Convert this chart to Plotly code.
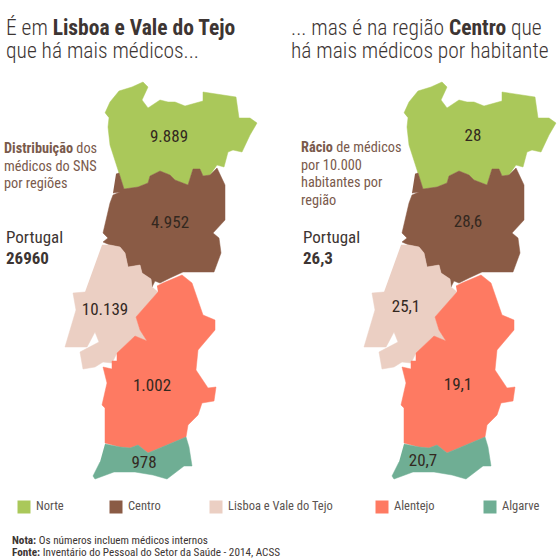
import plotly.graph_objects as go

# region names and values
regions = ['Norte', 'Centro', 'Lisboa e Vale do Tejo', 'Alentejo', 'Algarve']
colors = ['#aac85a', '#8a5b45', '#ebcfc3', '#fe7a62', '#6fae94']
medicos = ['9.889', '4.952', '10.139', '1.002', '978']
racio = ['28', '28,6', '25,1', '19,1', '20,7']

# region outlines
norte_x = [105,110,119,132,143,148,142,148,160,168,175,185,203,203,236,239,250,257,250,242,233,228,224,217,210,203,200,193,188,175,170,160,150,148,138,124,119,110,108,109]
norte_y = [113,102,91,87,82,87,100,108,100,102,102,106,101,92,97,118,118,123,135,152,150,152,167,165,175,176,169,169,185,180,175,171,176,183,187,189,173,145,127,118]
centro_x = [116,119,124,138,148,150,160,170,175,188,193,200,203,210,217,225,225,213,219,221,214,183,170,160,155,152,151,142,140,128,125,120,110,103,108,103,110,113,120,113]
centro_y = [174,173,189,187,183,176,171,175,180,185,169,169,176,175,168,185,220,233,238,253,272,272,278,283,281,287,279,273,265,267,253,247,245,242,238,233,203,195,192,193]
lisboa_x = [102,110,120,125,128,140,142,151,152,158,136,140,147,135,117,112,103,95,83,80,99,95,87,65,76,73,85]
lisboa_y = [245,245,247,253,267,265,273,279,287,292,317,330,341,336,353,363,362,367,369,352,342,332,347,347,310,293,292]
alentejo_x = [157,163,182,192,203,215,215,198,196,208,216,214,202,198,188,186,167,148,138,130,120,105,105,102,107,103,112,112,117,117,135,147,140,136,158]
alentejo_y = [286,283,275,283,315,320,330,350,370,388,387,401,403,415,425,437,445,453,445,448,447,443,408,405,383,367,369,361,361,353,336,341,330,317,292]
algarve_x = [105,120,130,138,148,167,186,189,192,184,167,153,135,114,95,93,100]
algarve_y = [444,447,448,445,453,445,437,447,466,466,479,475,472,472,479,476,462]

outlines = [(norte_x, norte_y), (centro_x, centro_y), (lisboa_x, lisboa_y),
            (alentejo_x, alentejo_y), (algarve_x, algarve_y)]
label_x = [169, 170, 105, 152, 144]
label_y = [138, 224, 311, 387, 464]
right_label_x = [473, 468, 406, 458, 423]
right_label_y = [137, 223, 308, 386, 462]

legend_x = [24, 116, 216, 382, 490]
legend_y = [507, 507, 507, 507, 507]

shift = 299
font = 'Roboto Condensed, Roboto'
grey = '#3d3533'
brown = '#7a5a4c'

fig = go.Figure()

for offset in [0, shift]:
    for (xs, ys), col in zip(outlines, colors):
        fig.add_trace(go.Scatter(x=[v + offset for v in xs], y=ys, mode='lines', fill='toself',
                                 fillcolor=col, line=dict(color=col, width=0.5),
                                 hoverinfo='skip', showlegend=False))

fig.add_trace(go.Scatter(x=label_x, y=label_y, mode='text', text=medicos,
                         textfont=dict(size=17, color='#33281f'), showlegend=False))
fig.add_trace(go.Scatter(x=right_label_x, y=right_label_y, mode='text', text=racio,
                         textfont=dict(size=17, color='#33281f'), showlegend=False))

# legend row
for x, y, name, col in zip(legend_x, legend_y, regions, colors):
    fig.add_trace(go.Scatter(x=[x], y=[y], mode='markers+text', text=[' ' + name],
                             textposition='middle right',
                             marker=dict(symbol='square', size=13, color=col),
                             textfont=dict(size=12.5, color='#5a5350'), showlegend=False))


def note(x, y, text, size, color=grey, weight=400):
    fig.add_annotation(x=x, y=y, xref='x', yref='y', text=text, showarrow=False, xanchor='left',
                       yanchor='middle', align='left',
                       font=dict(size=size, color=color, weight=weight))


# headings
note(4, 27, 'É em <b>Lisboa e Vale do Tejo</b>', 21.5, weight=300)
note(4, 50, 'que há mais médicos...', 21.5, weight=300)
note(289, 27, '... mas é na região <b>Centro</b> que', 21.5, weight=300)
note(289, 50, 'há mais médicos por habitante', 21.5, weight=300)

# side text
note(2, 148, '<b>Distribuição</b> dos', 14.3, brown)
note(2, 166, 'médicos do SNS', 14.3, brown)
note(2, 183, 'por regiões', 14.3, brown)
note(4, 237, 'Portugal', 17)
note(4, 258, '<b>26960</b>', 17)
note(299, 147, '<b>Rácio</b> de médicos', 14.3, brown)
note(299, 165, 'por 10.000', 14.3, brown)
note(299, 182, 'habitantes por', 14.3, brown)
note(299, 200, 'região', 14.3, brown)
note(301, 237, 'Portugal', 17)
note(301, 258, '<b>26,3</b>', 17)

# footer
note(10, 540, '<b>Nota:</b> Os números incluem médicos internos', 11.2)
note(10, 552, '<b>Fonte:</b> Inventário do Pessoal do Setor da Saúde - 2014, ACSS', 11.2)

fig.update_xaxes(range=[0, 560], visible=False, fixedrange=True)
fig.update_yaxes(range=[560, 0], visible=False, fixedrange=True)
fig.update_layout(width=560, height=560, margin=dict(l=0, r=0, t=0, b=0),
                  paper_bgcolor='white', plot_bgcolor='white', font=dict(family=font))

fig.write_html("out.html", config=dict(displayModeBar=False),
               post_script="document.body.style.margin='0'")
